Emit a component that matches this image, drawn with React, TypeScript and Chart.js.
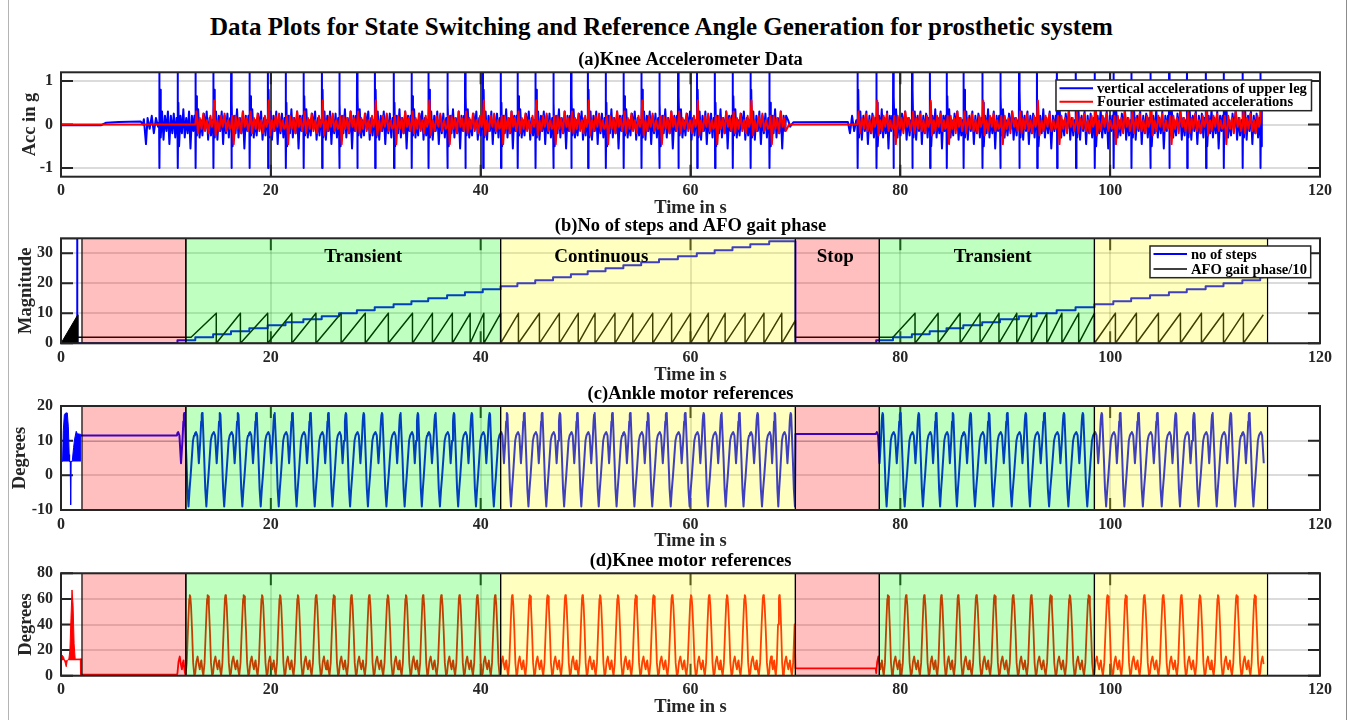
import React, { useEffect, useRef } from 'react';
import { Chart, registerables } from 'chart.js';

Chart.register(...registerables);

type Pt = [number, number];

const SERIF = '"Liberation Serif", "Times New Roman", Times, serif';

// ---------------- axis ticks ----------------
const xTicks = [0, 20, 40, 60, 80, 100, 120];
const accYTicks = [-1, 0, 1];
const stepYTicks = [0, 10, 20, 30];
const ankleYTicks = [-10, 0, 10, 20];
const kneeYTicks = [0, 20, 40, 60, 80];

// ---------------- gait events (s) ----------------
const stepTimesWalk1 = [11.1, 12.8, 14.5, 16.2, 17.95, 19.7, 21.4, 23.1, 24.85, 26.5, 28.2, 29.9, 31.7, 33.4, 35.0, 36.8, 38.5, 40.2, 41.9, 43.5, 45.2, 46.9, 48.6, 50.2, 51.9, 53.6, 55.3, 57.0, 58.8, 60.6, 62.3, 64.0, 65.7, 67.5];
const stepTimesWalk2 = [77.7, 79.3, 81.1, 82.8, 84.4, 86.0, 87.8, 89.5, 91.3, 93.0, 94.9, 96.7, 98.5, 100.3, 102.0, 103.8, 105.6, 107.3, 109.1, 110.8, 112.6, 114.3];
const lastCycleStartWalk1 = 68.9;
const firstSpikeWalk1 = 9.35;
const firstSpikeWalk2 = 75.9;

const gaitPhaseResets1 = [14.8, 17.1, 19.7, 22.0, 24.3, 26.7, 29.0, 31.2, 33.5, 35.4, 37.3, 39.0, 40.3, 41.9, 43.6, 45.6, 47.5, 49.3, 50.9, 52.8, 54.5, 56.4, 58.2, 60.0, 61.7, 63.3, 65.2, 67.0, 68.7];
const gaitPhaseResets2 = [81.4, 83.6, 85.7, 87.6, 89.4, 91.1, 92.5, 93.96, 95.4, 97.0, 98.5, 100.5, 102.5, 104.6, 106.7, 108.7, 110.8, 112.7];

// ---------------- controller states ----------------
const phaseStarts = [2, 11.9, 41.9, 70, 78, 98.5];
const phaseEnds = [11.9, 41.9, 70, 78, 98.5, 115];
const phaseKinds = ['stop', 'transient', 'continuous', 'stop', 'transient', 'continuous'];
const phaseLabelText = ['Transient', 'Continuous', 'Stop', 'Transient'];
const phaseLabelTime = [28.8, 51.5, 73.8, 88.8];
const phaseLabelLevel = 28.8;

// ---------------- (a) accelerometer ----------------
const accBluePre: Pt[] = [[0, -0.02], [3.8, -0.02], [4.3, 0.04], [5.5, 0.06], [7.6, 0.07], [7.8, 0.0], [7.9, 0.12], [8.1, -0.45], [8.25, 0.15], [8.45, -0.1], [8.65, 0.2], [8.85, -0.2], [9.05, 0.15], [9.25, -0.05]];
const accBlueMid: Pt[] = [[69.3, 0.1], [69.5, -0.05], [69.8, 0.05], [75.0, 0.06], [75.2, -0.2], [75.4, 0.2], [75.6, -0.15], [75.8, 0.1]];
const accBlueCycleA: Pt[] = [[0, 0.05], [0.01, 1.6], [0.025, -1.0], [0.05, 0.8], [0.09, -0.3], [0.16, 0.3], [0.24, -0.35], [0.32, 0.2], [0.4, -0.15], [0.48, 0.3], [0.56, -0.45], [0.64, 0.2], [0.72, -0.2], [0.8, 0.25], [0.88, -0.3], [0.95, 0.15]];
const accBlueCycleB: Pt[] = [[0, -0.05], [0.01, 1.6], [0.025, -1.0], [0.05, 0.5], [0.09, -0.5], [0.17, 0.2], [0.25, -0.2], [0.33, 0.35], [0.41, -0.3], [0.49, 0.15], [0.57, -0.2], [0.65, 0.3], [0.73, -0.55], [0.81, 0.2], [0.89, -0.15], [0.95, 0.2]];
const accBlueCycleC: Pt[] = [[0, 0.1], [0.01, 1.6], [0.025, -1.0], [0.05, 0.65], [0.09, -0.25], [0.16, 0.35], [0.24, -0.3], [0.32, 0.1], [0.4, -0.25], [0.48, 0.25], [0.56, -0.1], [0.64, 0.3], [0.72, -0.35], [0.8, 0.15], [0.88, -0.25], [0.95, 0.1]];
const accRedCycleA: Pt[] = [[0, 0], [0.07, 0.3], [0.15, -0.2], [0.25, 0.15], [0.35, -0.1], [0.45, 0.25], [0.55, -0.15], [0.65, 0.1], [0.75, -0.2], [0.85, 0.2], [0.93, -0.05]];
const accRedCycleB: Pt[] = [[0, 0.05], [0.06, 0.55], [0.14, -0.25], [0.24, 0.1], [0.34, -0.15], [0.44, 0.2], [0.54, -0.05], [0.64, 0.25], [0.74, -0.15], [0.84, 0.1], [0.93, -0.1]];
const accRedCycleC: Pt[] = [[0, -0.05], [0.07, 0.2], [0.15, -0.45], [0.25, 0.2], [0.35, -0.1], [0.45, 0.15], [0.55, -0.2], [0.65, 0.3], [0.75, -0.05], [0.85, 0.15], [0.93, -0.15]];

// ---------------- (b) steps / gait phase ----------------
const stepCountStartHold = 35;
const stepCountStartDrop = 1.55;
const gaitPhaseBurst: Pt[] = [[0, 0], [1.6, 9.5], [1.6, 0]];
const gaitPhaseHold = 2;

// ---------------- (c) ankle ----------------
const ankleBurst: Pt[] = [[0, 4], [0.15, 4], [0.22, 13], [0.32, 17.5], [0.45, 18], [0.6, 18], [0.7, 14], [0.78, 6], [0.82, 4], [0.88, 4], [0.92, -8.5], [0.96, 4], [1.07, 4], [1.2, 8], [1.3, 10.5], [1.45, 12.7], [1.55, 12], [1.9, 11.8]];
const ankleCycle: Pt[] = [[0, 12.2], [0.04, 12.5], [0.11, 11.5], [0.2, 3.5], [0.28, 10], [0.33, 15.5], [0.36, 17.5], [0.38, 18], [0.41, 17.5], [0.5, 5], [0.56, -4], [0.62, -9], [0.68, -4], [0.74, 0], [0.87, 10], [0.93, 11.5], [0.98, 12]];
const ankleHoldWalk1 = 11.5;
const ankleHoldStop = 11.9;
const ankleOffsetLine: Pt[] = [[2, 9.8], [115, 9.8]];

// ---------------- (d) knee ----------------
const kneeBurst: Pt[] = [[0, 17], [0.12, 16], [0.25, 14.5], [0.4, 10], [0.5, 7], [0.6, 12], [0.75, 13], [0.85, 20], [0.95, 45], [1.05, 67], [1.15, 55], [1.25, 25], [1.35, 13], [1.6, 13], [1.85, 13]];
const kneeCycle: Pt[] = [[0, 2], [0.06, 11], [0.13, 15], [0.19, 9], [0.25, 5], [0.3, 10], [0.34, 12], [0.4, 4], [0.45, 0], [0.52, 10], [0.6, 40], [0.66, 60], [0.69, 63], [0.72, 62], [0.76, 55], [0.82, 35], [0.88, 10], [0.945, 0]];
const kneeHoldWalk1 = 0.8;
const kneeHoldStop = 5.8;

// ---------------- helpers to build tables ----------------
function cycles(starts: number[], templates: Pt[][], endTime: number, lastDur: number): Pt[] {
  const out: Pt[] = [];
  starts.forEach((s, i) => {
    const d = i + 1 < starts.length ? starts[i + 1] - s : lastDur;
    const tpl = templates[i % templates.length];
    for (const [f, v] of tpl) {
      const t = s + f * d;
      if (t <= endTime) out.push([t, v]);
    }
  });
  return out;
}

const accStarts1 = [firstSpikeWalk1, ...stepTimesWalk1];
const accStarts2 = [firstSpikeWalk2, ...stepTimesWalk2];
const blueTpl = [accBlueCycleA, accBlueCycleB, accBlueCycleC];
const redTpl = [accRedCycleA, accRedCycleB, accRedCycleC];

const accBlue: Pt[] = [
  ...accBluePre,
  ...cycles(accStarts1, blueTpl, 69.2, 1.7),
  ...accBlueMid,
  ...cycles(accStarts2, blueTpl, 114.55, 1.7),
];
const accRed: Pt[] = [
  [0, 0], [12.7, 0],
  ...cycles(stepTimesWalk1.slice(1), redTpl, 69.2, 1.7),
  [69.4, 0], [75.8, 0],
  ...cycles(accStarts2, redTpl, 114.5, 1.7),
  [114.6, 0.35],
];

function buildStepCount(): Pt[] {
  const pts: Pt[] = [[0, stepCountStartHold], [stepCountStartDrop, stepCountStartHold], [stepCountStartDrop, 0]];
  let c = 0;
  for (const t of stepTimesWalk1) { pts.push([t, c]); c++; pts.push([t, c]); }
  pts.push([70, c], [70, 0]);
  c = 0;
  for (const t of stepTimesWalk2) { pts.push([t, c]); c++; pts.push([t, c]); }
  pts.push([114.6, c]);
  return pts;
}
function buildGaitPhase(): Pt[] {
  const pts: Pt[] = [[1.6, gaitPhaseHold], [12.4, gaitPhaseHold]];
  for (const r of gaitPhaseResets1) pts.push([r, 10], [r, 0]);
  pts.push([70, 7.6], [70, gaitPhaseHold], [79.3, gaitPhaseHold]);
  for (const r of gaitPhaseResets2) pts.push([r, 10], [r, 0]);
  pts.push([114.6, 9.5]);
  return pts;
}
const stepCount = buildStepCount();
const gaitPhase = buildGaitPhase();

const ankleMain: Pt[] = [
  [1.9, ankleHoldWalk1], [11.05, ankleHoldWalk1],
  ...cycles([...stepTimesWalk1, lastCycleStartWalk1], [ankleCycle], 70, 1.7),
  [70, ankleHoldStop], [77.65, ankleHoldStop],
  ...cycles(stepTimesWalk2, [ankleCycle], 114.7, 1.7),
];
const kneeMain: Pt[] = [
  [1.88, 13], [1.9, kneeHoldWalk1], [11.05, kneeHoldWalk1],
  ...cycles([...stepTimesWalk1, lastCycleStartWalk1], [kneeCycle], 70, 1.7),
  [70, kneeHoldStop], [77.65, kneeHoldStop],
  ...cycles(stepTimesWalk2, [kneeCycle], 114.7, 1.7),
];

// ---------------- styling ----------------
const phaseFill: Record<string, string> = {
  stop: 'rgba(255,0,0,0.25)',
  transient: 'rgba(0,255,0,0.25)',
  continuous: 'rgba(255,255,0,0.25)',
};

type LegendItem = { label: string; color: string };
type PanelCfg = {
  top: number; height: number; areaTop: number; xAxisH: number;
  yMin: number; yMax: number; yTicks: number[];
  subtitle: string; yTitle: string; yTitleX: number;
  patches: boolean; phaseLabels: boolean; darkXGrid: boolean;
  legend?: { x0: number; y0: number; x1: number; y1: number; rows: number[]; items: LegendItem[] };
  datasets: any[];
};

const toXY = (pts: Pt[]) => pts.map(([x, y]) => ({ x, y }));
const lineDs = (label: string, pts: Pt[], color: string, width: number, order: number, extra: any = {}) => ({
  label, data: toXY(pts), borderColor: color, backgroundColor: color, borderWidth: width,
  pointRadius: 0, tension: 0, fill: false, order, borderJoinStyle: 'round', ...extra,
});

const panels: PanelCfg[] = [
  {
    top: 35, height: 190, areaTop: 37.3, xAxisH: 48.3, yMin: -1.2, yMax: 1.2, yTicks: accYTicks,
    subtitle: '(a)Knee Accelerometer Data', yTitle: 'Acc in g', yTitleX: 30,
    patches: false, phaseLabels: false, darkXGrid: true,
    legend: { x0: 1056, y0: 45, x1: 1311.5, y1: 75.7, rows: [53.3, 66.7], items: [
      { label: 'vertical accelerations of upper leg', color: '#0000ff' },
      { label: 'Fourier estimated accelerations', color: '#ff0000' }] },
    datasets: [
      lineDs('vertical accelerations of upper leg', accBlue, '#0000ff', 2, 1),
      lineDs('Fourier estimated accelerations', accRed, '#ff0000', 2, 0),
    ],
  },
  {
    top: 205, height: 190, areaTop: 33.3, xAxisH: 51.7, yMin: 0, yMax: 35, yTicks: stepYTicks,
    subtitle: '(b)No of steps and AFO gait phase', yTitle: 'Magnitude', yTitleX: 26,
    patches: true, phaseLabels: true, darkXGrid: false,
    legend: { x0: 1150, y0: 41, x1: 1310.7, y1: 72.7, rows: [49, 64], items: [
      { label: 'no of steps', color: '#0000ff' },
      { label: 'AFO gait phase/10', color: '#000000' }] },
    datasets: [
      lineDs('no of steps', stepCount, '#0000ff', 2, 1),
      lineDs('AFO gait phase/10', gaitPhase, '#000000', 1.5, 0),
      lineDs('AFO gait phase start', gaitPhaseBurst, '#000000', 1, 0, { fill: 'origin' }),
    ],
  },
  {
    top: 375, height: 185, areaTop: 31, xAxisH: 50, yMin: -10, yMax: 20, yTicks: ankleYTicks,
    subtitle: '(c)Ankle motor references', yTitle: 'Degrees', yTitleX: 20,
    patches: true, phaseLabels: false, darkXGrid: false,
    datasets: [
      lineDs('ankle reference', ankleMain, '#0000ff', 2, 0),
      lineDs('ankle start', ankleBurst, '#0000ff', 1, 1, { fill: { value: 4 } }),
      lineDs('ankle offset', ankleOffsetLine, 'rgba(60,60,255,0.35)', 1, 2),
    ],
  },
  {
    top: 540, height: 180, areaTop: 33.3, xAxisH: 44.3, yMin: 0, yMax: 80, yTicks: kneeYTicks,
    subtitle: '(d)Knee motor references', yTitle: 'Degrees', yTitleX: 26,
    patches: true, phaseLabels: false, darkXGrid: false,
    datasets: [
      lineDs('knee reference', kneeMain, '#ff0000', 1.8, 0),
      lineDs('knee start', kneeBurst, '#ff0000', 1, 1, { fill: { value: 12 } }),
    ],
  },
];

function makeDecor(p: PanelCfg) {
  return {
    id: 'decor',
    beforeDatasetsDraw(chart: any) {
      const { ctx, chartArea: a, scales } = chart;
      ctx.save();
      ctx.strokeStyle = '#262626';
      ctx.lineWidth = 2;
      ctx.beginPath();
      for (const v of xTicks) {
        const x = scales.x.getPixelForValue(v);
        ctx.moveTo(x, a.bottom); ctx.lineTo(x, a.bottom - 12);
        ctx.moveTo(x, a.top); ctx.lineTo(x, a.top + 12);
      }
      for (const v of p.yTicks) {
        const y = scales.y.getPixelForValue(v);
        ctx.moveTo(a.left, y); ctx.lineTo(a.left + 12, y);
        ctx.moveTo(a.right, y); ctx.lineTo(a.right - 12, y);
      }
      ctx.stroke();
      ctx.restore();
    },
    afterDatasetsDraw(chart: any) {
      const { ctx, chartArea: a, scales } = chart;
      const X = (v: number) => scales.x.getPixelForValue(v);
      const Y = (v: number) => scales.y.getPixelForValue(v);
      ctx.save();
      ctx.beginPath();
      ctx.rect(a.left, a.top, a.right - a.left, a.bottom - a.top);
      ctx.clip();
      if (p.patches) {
        phaseStarts.forEach((s, i) => {
          const x0 = X(s), x1 = X(phaseEnds[i]);
          ctx.fillStyle = phaseFill[phaseKinds[i]];
          ctx.fillRect(x0, a.top, x1 - x0, a.bottom - a.top);
        });
        ctx.strokeStyle = '#000';
        ctx.lineWidth = 1.2;
        phaseStarts.forEach((s, i) => {
          const x0 = X(s), x1 = X(phaseEnds[i]);
          ctx.strokeRect(x0, a.top, x1 - x0, a.bottom - a.top);
        });
      }
      if (p.phaseLabels) {
        ctx.fillStyle = '#000';
        ctx.font = `bold 19px ${SERIF}`;
        ctx.textAlign = 'center';
        ctx.textBaseline = 'middle';
        phaseLabelText.forEach((t, i) => ctx.fillText(t, X(phaseLabelTime[i]), Y(phaseLabelLevel)));
      }
      ctx.restore();
      if (p.legend) {
        const L = p.legend;
        ctx.save();
        ctx.fillStyle = '#fff';
        ctx.fillRect(L.x0, L.y0, L.x1 - L.x0, L.y1 - L.y0);
        ctx.strokeStyle = '#262626';
        ctx.lineWidth = 1.5;
        ctx.strokeRect(L.x0, L.y0, L.x1 - L.x0, L.y1 - L.y0);
        ctx.font = `bold 14.6px ${SERIF}`;
        ctx.textAlign = 'left';
        ctx.textBaseline = 'middle';
        L.items.forEach((it, i) => {
          const y = L.rows[i];
          ctx.strokeStyle = it.color;
          ctx.lineWidth = it.color === '#000000' ? 1.5 : 2;
          ctx.beginPath(); ctx.moveTo(L.x0 + 3.5, y); ctx.lineTo(L.x0 + 37, y); ctx.stroke();
          ctx.fillStyle = '#000';
          ctx.fillText(it.label, L.x0 + 41, y + 1);
        });
        ctx.restore();
      }
    },
    afterDraw(chart: any) {
      const { ctx, chartArea: a } = chart;
      ctx.save();
      ctx.strokeStyle = '#262626';
      ctx.lineWidth = 2;
      ctx.strokeRect(a.left, a.top, a.right - a.left, a.bottom - a.top);
      const cx = (a.left + a.right) / 2;
      ctx.fillStyle = '#000';
      ctx.textAlign = 'center';
      ctx.textBaseline = 'middle';
      ctx.font = `bold 18.5px ${SERIF}`;
      ctx.fillText(p.subtitle, cx, a.top - 12);
      ctx.fillStyle = '#262626';
      ctx.font = `bold 18.5px ${SERIF}`;
      ctx.fillText('Time in s', cx, a.bottom + 31.5);
      ctx.translate(p.yTitleX, (a.top + a.bottom) / 2);
      ctx.rotate(-Math.PI / 2);
      ctx.fillText(p.yTitle, 0, 0);
      ctx.restore();
    },
  };
}

function buildConfig(p: PanelCfg): any {
  const tickFont = { family: SERIF, size: 16, weight: 'bold' };
  return {
    type: 'line',
    data: { datasets: p.datasets },
    options: {
      responsive: false,
      animation: false,
      devicePixelRatio: 1,
      events: [],
      layout: { padding: { top: p.areaTop, left: 8, right: 30, bottom: 0 } },
      plugins: { legend: { display: false }, tooltip: { enabled: false }, title: { display: false } },
      scales: {
        x: {
          type: 'linear', min: 0, max: 120,
          afterBuildTicks: (s: any) => { s.ticks = xTicks.map((v) => ({ value: v })); },
          afterFit: (s: any) => { s.height = p.xAxisH; },
          grid: { color: p.darkXGrid ? 'rgba(40,40,40,0.85)' : 'rgba(0,0,0,0.14)', lineWidth: 2, drawTicks: false },
          border: { display: false },
          ticks: { font: tickFont, color: '#262626', padding: 5, maxRotation: 0, autoSkip: false },
        },
        y: {
          type: 'linear', min: p.yMin, max: p.yMax,
          afterBuildTicks: (s: any) => { s.ticks = p.yTicks.map((v) => ({ value: v })); },
          afterFit: (s: any) => { s.width = 53; },
          grid: { color: 'rgba(0,0,0,0.14)', lineWidth: 2, drawTicks: false },
          border: { display: false },
          ticks: { font: tickFont, color: '#262626', padding: 8, autoSkip: false },
        },
      },
    },
    plugins: [makeDecor(p)],
  };
}

export default function App() {
  const r0 = useRef<HTMLCanvasElement>(null);
  const r1 = useRef<HTMLCanvasElement>(null);
  const r2 = useRef<HTMLCanvasElement>(null);
  const r3 = useRef<HTMLCanvasElement>(null);
  const refs = [r0, r1, r2, r3];

  useEffect(() => {
    const charts = panels.map((p, i) => new Chart(refs[i].current as HTMLCanvasElement, buildConfig(p)));
    return () => charts.forEach((c) => c.destroy());
  }, []);

  return (
    <div style={{ position: 'absolute', left: 0, top: 0, width: 1350, height: 720, background: '#fff', overflow: 'hidden' }}>
      <div style={{ position: 'absolute', left: 8, top: 0, width: 1, height: 720, background: '#b4b4b4' }} />
      <div style={{ position: 'absolute', left: 1346, top: 0, width: 1, height: 720, background: '#8c8c8c' }} />
      <div style={{ position: 'absolute', left: 0, top: 12, width: 1323, textAlign: 'center', fontFamily: SERIF, fontWeight: 'bold', fontSize: 25, lineHeight: '30px', color: '#000' }}>
        Data Plots for State Switching and Reference Angle Generation for prosthetic system
      </div>
      {panels.map((p, i) => (
        <canvas key={i} ref={refs[i]} width={1350} height={p.height}
          style={{ position: 'absolute', left: 0, top: p.top, width: 1350, height: p.height }} />
      ))}
    </div>
  );
}
